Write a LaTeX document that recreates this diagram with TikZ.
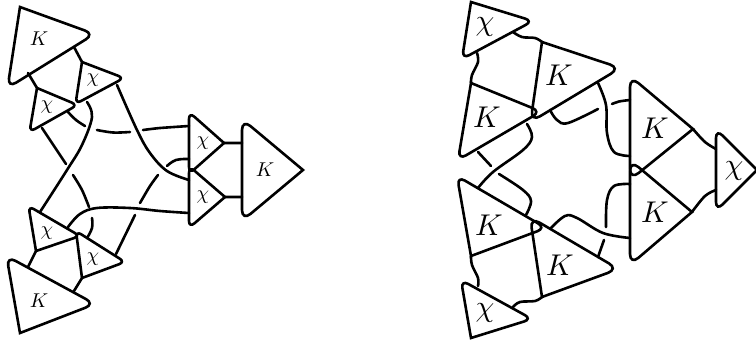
\documentclass[tikz,border=0pt]{standalone}
\tikzset{
  wire/.style={line width=2.6pt,line cap=round,line join=round},
  tribox/.style={line width=2.6pt,line join=miter},
  smalllab/.style={inner sep=0pt,scale=2.0},
  biglab/.style={inner sep=0pt,scale=3.0},
}
\newcommand{\tri}[8]{\draw[tribox] #1 [rounded corners=#4pt] -- #2 -- #3 [sharp corners] -- cycle;
  \node[#7] (#5) at #8 {$#6$};}
\newcommand{\pt}[2]{\coordinate (#1) at (#2);}
\begin{document}
\begin{tikzpicture}[x=1pt,y=-1pt]
\useasboundingbox (0,0) rectangle (756,341);
% left picture
\tri{(20,7)}{(94.5,34)}{(7.5,88)}{10}{k1}{K}{smalllab}{(39,39)}
\tri{(82,62)}{(124,78)}{(75.5,104)}{6}{c1}{\chi}{smalllab}{(93,80)}
\tri{(37,88)}{(77.5,105)}{(29.5,132)}{6}{c2}{\chi}{smalllab}{(47,107)}
\tri{(36,251)}{(80,236)}{(28.5,206)}{6}{c3}{\chi}{smalllab}{(47,233)}
\tri{(82,278)}{(125,262)}{(76,231)}{6}{c4}{\chi}{smalllab}{(93,259)}
\tri{(20,333)}{(95,304)}{(6.5,256)}{10}{k2}{K}{smalllab}{(39,301)}
\tri{(224,143)}{(189,174)}{(189,112)}{7}{c5}{\chi}{smalllab}{(203,143)}
\tri{(225,197)}{(189,228)}{(189,166)}{7}{c6}{\chi}{smalllab}{(203,197)}
\tri{(303,170)}{(242,221)}{(242,119)}{11}{k3}{K}{smalllab}{(265,170)}
% right picture
\tri{(471,2)}{(533,21)}{(462,59)}{8}{c7}{\chi}{biglab}{(485,27)}
\tri{(542,42)}{(620.5,68)}{(530.5,122)}{11}{k4}{K}{biglab}{(559,75)}
\tri{(471,83)}{(541,111.5)}{(458,160)}{9}{k5}{K}{biglab}{(487,117)}
\tri{(471,256)}{(546,228)}{(457,176)}{9}{k6}{K}{biglab}{(489,225)}
\tri{(542,297)}{(618.5,269)}{(530,217)}{11}{k7}{K}{biglab}{(560,265)}
\tri{(471,338)}{(532,319)}{(461,280)}{8}{c8}{\chi}{biglab}{(485,313)}
\tri{(693,129)}{(630,180)}{(630,76)}{11}{k8}{K}{biglab}{(655,128)}
\tri{(692,212)}{(630,265)}{(630,160)}{11}{k9}{K}{biglab}{(655,212)}
\tri{(757,170)}{(716,211)}{(716,129)}{9}{c9}{\chi}{biglab}{(734,171)}
% ports
\pt{a1}{74,47}\pt{a2}{82,62}\pt{a3}{28,73}\pt{a4}{37,88}\pt{a5}{28,267}\pt{a6}{36,251}\pt{a7}{74,291}\pt{a8}{82,278}
\pt{a9}{224,143}\pt{a10}{242,143}\pt{a11}{225,197}\pt{a12}{242,197}
\pt{b1}{42,128}\pt{b2}{66,164}\pt{b3}{73,175}\pt{b4}{89,207}\pt{b5}{92,218}\pt{b6}{87,238}
\pt{b7}{87,102}\pt{b8}{40,212}\pt{b9}{68,112}\pt{b10}{85,126}\pt{b11}{97,130}\pt{b12}{130,132}\pt{b13}{143,130}\pt{b14}{189,126}
\pt{b15}{117,85}\pt{b16}{189,180}\pt{b17}{189,159}\pt{b18}{167,166}\pt{b19}{158,175}\pt{b20}{140,203}\pt{b21}{135,215}\pt{b22}{116,254}
\pt{b23}{68,227}\pt{b24}{189,213}
\pt{d1}{477,53}\pt{d2}{471,83}\pt{d3}{513,32}\pt{d4}{542,42}\pt{d5}{478,286}\pt{d6}{471,256}\pt{d7}{513,307}\pt{d8}{542,297}
\pt{d9}{693,129}\pt{d10}{716,149}\pt{d11}{692,212}\pt{d12}{716,190}
\pt{e1}{478,152}\pt{e2}{491,166}\pt{e3}{499,174}\pt{e4}{526,215}\pt{e5}{527,124}\pt{e6}{478,188}
\pt{e7}{550,110}\pt{e8}{598,109}\pt{e9}{612,104}\pt{e10}{630,100}\pt{e11}{598,83}\pt{e12}{630,156}
\pt{e13}{630,184}\pt{e14}{606,227}\pt{e15}{604,240}\pt{e16}{598,257}\pt{e17}{550,229}\pt{e18}{630,238}
% left connectors
\draw[wire] (a1)--(a2) (a3)--(a4) (a5)--(a6) (a7)--(a8) (a9)--(a10) (a11)--(a12);
\draw[wire] (b1)--(b2);
\draw[wire] plot[smooth,tension=.6] coordinates {(b3) (82,190) (b4)};
\draw[wire] plot[smooth,tension=.7] coordinates {(b5) (92,228) (b6)};
\draw[wire] plot[smooth,tension=.6] coordinates {(b7) (92,117) (82,145) (67,170) (b8)};
\draw[wire] plot[smooth,tension=.6] coordinates {(b9) (76,120) (b10)};
\draw[wire] plot[smooth,tension=.6] coordinates {(b11) (113,132.5) (b12)};
\draw[wire] plot[smooth,tension=.4] coordinates {(b13) (160,128) (b14)};
\draw[wire] plot[smooth,tension=.6] coordinates {(b15) (137,130) (150,153) (167,171) (b16)};
\draw[wire] plot[smooth,tension=.7] coordinates {(b17) (176,160) (b18)};
\draw[wire] plot[smooth,tension=.5] coordinates {(b19) (150,186) (b20)};
\draw[wire] (b21)--(b22);
\draw[wire] plot[smooth,tension=.6] coordinates {(b23) (80,214) (97,208) (130,208) (160,211) (b24)};
% right connectors
\draw[wire] plot[smooth,tension=.6] coordinates {(d1) (478,62) (472,75) (d2)};
\draw[wire] plot[smooth,tension=.6] coordinates {(d3) (522,37) (535,38) (d4)};
\draw[wire] plot[smooth,tension=.6] coordinates {(d5) (478,278) (472,265) (d6)};
\draw[wire] plot[smooth,tension=.6] coordinates {(d7) (520,302) (535,301) (d8)};
\draw[wire] plot[smooth,tension=.6] coordinates {(d9) (705,142) (d10)};
\draw[wire] plot[smooth,tension=.6] coordinates {(d11) (705,196) (d12)};
\draw[wire] (e1)--(e2);
\draw[wire] plot[smooth,tension=.6] coordinates {(e3) (523,190) (531,201) (e4)};
\draw[wire] plot[smooth,tension=.6] coordinates {(e5) (532,137) (523,150) (493,172) (e6)};
\draw[wire] plot[smooth,tension=.6] coordinates {(e7) (557,120) (568,123) (e8)};
\draw[wire] plot[smooth,tension=.6] coordinates {(e9) (619,101.5) (e10)};
\draw[wire] plot[smooth,tension=.6] coordinates {(e11) (606,105) (607,133) (614,152) (e12)};
\draw[wire] plot[smooth,tension=.6] coordinates {(e13) (614,186) (607,200) (e14)};
\draw[wire] (e15)--(e16);
\draw[wire] plot[smooth,tension=.6] coordinates {(e17) (565,216) (577,218) (603,233) (e18)};
\end{tikzpicture}
\end{document}
